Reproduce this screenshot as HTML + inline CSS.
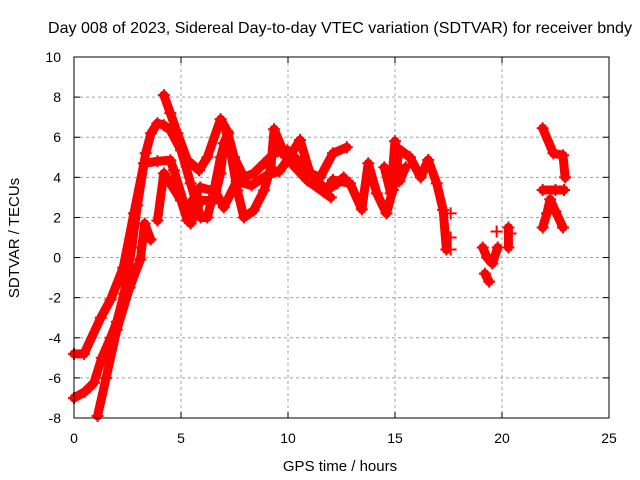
<!DOCTYPE html>
<html><head><meta charset="utf-8"><style>
body{margin:0;background:#fff}
svg{display:block;font-family:"Liberation Sans",sans-serif}
</style></head><body>
<svg id="chart" width="640" height="480" viewBox="0 0 640 480">
<text x="340" y="33" font-size="16" text-anchor="middle" textLength="584" lengthAdjust="spacingAndGlyphs">Day 008 of 2023, Sidereal Day-to-day VTEC variation (SDTVAR) for receiver bndy</text>
<text transform="translate(19,238) rotate(-90)" font-size="15" text-anchor="middle">SDTVAR / TECUs</text>
<text x="340" y="471" font-size="15" text-anchor="middle">GPS time / hours</text>
<g id="grid"></g>
<g id="ticks"></g>
<g id="series"></g>
<rect x="74" y="57" width="535" height="361" fill="none" stroke="#000" stroke-width="1"/>
</svg>
<script>
const xTicks=[0,5,10,15,20,25];
const yTicks=[-8,-6,-4,-2,0,2,4,6,8,10];
const track1=[[4.2,8.1],[4.5,7.2],[4.83,6.2],[5.3,4.85],[5.84,4.35],[6.23,5.0],[6.85,6.9],[7.17,6.3],[7.48,5],[7.94,4],[8.4,4.2],[8.88,4.7],[9.35,5.2],[9.97,5.35],[10.6,4.7],[11.2,4],[11.8,3.35],[12.3,3.7],[12.6,4]];
const track2=[[0,-7],[0.5,-6.7],[0.93,-6.25],[1.3,-5],[1.71,-4],[2.0,-3.2],[2.34,-1.8],[2.7,0.5],[2.96,2.6],[3.35,5.2],[3.6,6.2],[3.9,6.7],[4.2,6.6],[4.5,6.35],[5.0,5.35],[5.45,3.7],[5.92,2.0],[6.23,2.0],[6.54,3.35],[6.85,5.0],[7.17,6.2],[7.63,3.35],[7.94,2.0],[8.4,2.35],[8.88,3.35],[9.2,4.5],[9.35,6.4],[9.9,5],[10.9,3.85],[12,3.0]];
const track3=[[0,-4.8],[0.47,-4.8],[1.25,-3],[1.71,-2.1],[2.3,-0.5],[2.8,2.2],[3.27,4.7],[3.9,4.8],[4.5,4.85],[4.67,4.35],[5.14,2.7],[5.45,1.7],[5.92,2.85],[6.54,2.85],[6.85,4.2],[7.0,5.7],[7.2,6.2]];
const track4=[[1.1,-7.9],[1.5,-6],[2.0,-3.6],[2.6,-1.5],[3.1,-0.1],[3.3,1.7],[3.58,0.9]];
const track5=[[3.9,1.85],[4.2,4.2],[4.5,3.7],[5.0,2.85],[5.3,1.85],[5.45,2.7],[5.9,3.5],[6.6,3.3],[7.0,2.5],[7.6,3.8],[8.3,3.6],[9.0,4.1],[9.6,4.3],[10.0,4.9],[10.56,5.86],[11.03,4.2],[11.5,4.0],[12.1,5.2],[12.75,5.5]];
const track6=[[11.8,3.37],[12.1,3.87],[12.9,3.7],[13.45,2.4],[13.75,4.7],[14.15,3.2],[14.6,2.2],[14.9,3.37],[15.2,5.4],[15.7,5.0],[16.2,4.0],[16.55,4.87],[16.95,3.7],[17.25,2.37],[17.4,0.4]];
const track7=[[14.5,4.5],[14.8,3.2],[15.0,5.8],[15.2,3.8],[15.5,4.5]];
const island1=[[19.1,0.5],[19.3,0],[19.55,-0.3],[19.8,0.5]];
const island2=[[19.2,-0.8],[19.4,-1.2]];
const island3=[[20.3,1.5],[20.3,0.5]];
const island4=[[21.9,6.45],[22.4,5.2],[22.85,5.1],[22.95,4.0]];
const island5=[[21.9,3.37],[22.5,3.37],[22.9,3.37]];
const island6=[[21.9,1.5],[22.1,2.2],[22.25,2.9],[22.5,2.3],[22.85,1.5]];
const sparse=[[17.6,2.2],[17.6,1.0],[17.6,0.4],[19.75,1.3],[20.4,1.2]];
const allSeries=[track1,track2,track3,track4,track5,track6,track7,island1,island2,island3,island4,island5,island6];

const X0=74,X1=609,Y0=418,Y1=57;
const xs=h=>X0+(h-0)/(25-0)*(X1-X0);
const ys=v=>Y0-(v+8)/(18)*(Y0-Y1);
const NS="http://www.w3.org/2000/svg";
const grid=document.getElementById('grid'),ticks=document.getElementById('ticks'),ser=document.getElementById('series');
function mk(tag,attrs,parent){const e=document.createElementNS(NS,tag);for(const k in attrs)e.setAttribute(k,attrs[k]);parent.appendChild(e);return e;}
xTicks.forEach(t=>{
  const x=xs(t);
  if(t>0&&t<25){const g=mk('line',{x1:x,x2:x,y1:Y1,y2:Y0,stroke:'#a0a0a0','stroke-dasharray':'3,3'},grid);
  
  }
  mk('line',{x1:x,x2:x,y1:Y0,y2:Y0-6,stroke:'#000'},ticks);
  mk('line',{x1:x,x2:x,y1:Y1,y2:Y1+6,stroke:'#000'},ticks);
  const l=mk('text',{x:x,y:443,'font-size':14,'text-anchor':'middle'},ticks);l.textContent=t;
  
  
});
yTicks.forEach(t=>{
  const y=ys(t);
  if(t>-8&&t<10){const g=mk('line',{x1:X0,x2:X1,y1:y,y2:y,stroke:'#a0a0a0','stroke-dasharray':'3,3'},grid);
  
  }
  mk('line',{x1:X0,x2:X0+6,y1:y,y2:y,stroke:'#000'},ticks);
  mk('line',{x1:X1,x2:X1-6,y1:y,y2:y,stroke:'#000'},ticks);
  const l=mk('text',{x:61,y:y+5,'font-size':14,'text-anchor':'end'},ticks);l.textContent=t;
  
  
});
function plus(h,v){
  const x=xs(h),y=ys(v);
  const p=mk('path',{d:`M${x-6},${y}H${x+6}M${x},${y-6}V${y+6}`,stroke:'#ff0000','stroke-width':2},ser);
  
  
}
allSeries.forEach(s=>{
  const pl=mk('polyline',{points:s.map(d=>xs(d[0])+','+ys(d[1])).join(' '),fill:'none',stroke:'#ff0000','stroke-width':9,'stroke-linejoin':'round','stroke-linecap':'round'},ser);
  
  
  s.forEach(d=>plus(d[0],d[1]));
});
sparse.forEach(d=>plus(d[0],d[1]));
</script>
</body></html>
